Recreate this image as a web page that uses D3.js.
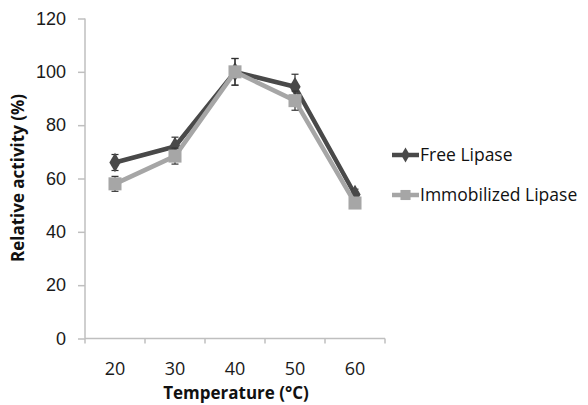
<!doctype html>
<html lang="en">
<head>
<meta charset="UTF-8">
<title>Relative activity vs temperature</title>
<script src="https://cdn.jsdelivr.net/npm/d3@7"></script>
<style>
    body{ margin:0; background:#fff; }
    svg{ display:block; font-family:"Open Sans", sans-serif; }
    .axis path, .axis line{ stroke:#bfbfbf; stroke-width:1.5px; }
    .axis text{ fill:#1a1a1a; font-size:18px; }
    .title{ font-weight:bold; font-size:17px; fill:#111; }
    .legend text{ font-size:17.5px; fill:#111; }
</style>
</head>
<body>
<svg width="588" height="405"></svg>
<script>
// values
const temps = ["20", "30", "40", "50", "60"];
const freeLipase = [66, 72, 100, 94.4, 54];
const freeErr = [3, 3.5, 5, 4.7, 2];
const immobLipase = [58, 68.4, 100, 89.2, 50.8];
const immobErr = [2.8, 3, 5, 3.6, 1.5];
const yTicks = [0, 20, 40, 60, 80, 100, 120];

const series = [
    {name:"Free Lipase", values:freeLipase, err:freeErr, color:"#484848", shape:d3.symbolDiamond, size:110},
    {name:"Immobilized Lipase", values:immobLipase, err:immobErr, color:"#a6a6a6", shape:d3.symbolSquare, size:170}
];

const svg = d3.select("svg");

let x = d3.scaleBand().domain(temps).range([85, 385]);
let y = d3.scaleLinear().domain([0, 120]).range([338.5, 18.5]);

// soft edge like the scanned figure
svg.append("defs").append("filter").attr("id","soft")
    .append("feGaussianBlur").attr("stdDeviation", 0.6);

// y axis
let yAxis = svg.append("g").attr("class","axis")
    .attr("transform","translate(85,0)")
    .call(d3.axisLeft(y).tickValues(yTicks).tickSize(7).tickPadding(12));
yAxis.select(".domain").attr("d","M0,18.5V338.5");

// x axis, ticks on category boundaries
let xAxis = svg.append("g").attr("class","axis")
    .attr("transform","translate(0,338.5)");
xAxis.append("line").attr("x1",85).attr("x2",385);
xAxis.selectAll(".bound").data(d3.range(temps.length + 1)).enter()
    .append("line").attr("class","bound")
    .attr("x1",i=>85 + i * x.step()).attr("x2",i=>85 + i * x.step())
    .attr("y1",0).attr("y2",5);
xAxis.selectAll(".lbl").data(temps).enter().append("text")
    .attr("x",d=>x(d) + x.bandwidth() / 2).attr("y",36)
    .attr("text-anchor","middle").text(d=>d);

// titles
svg.append("text").attr("class","title")
    .attr("x",236).attr("y",399).attr("text-anchor","middle")
    .text("Temperature (°C)");
svg.append("text").attr("class","title")
    .attr("transform","translate(24,178) rotate(-90)").attr("text-anchor","middle")
    .text("Relative activity (%)");

let cx = d=>x(d) + x.bandwidth() / 2;

series.forEach(s=>{
    let g = svg.append("g").attr("filter","url(#soft)");
    let pts = temps.map((t,i)=>({t:t, v:s.values[i], e:s.err[i]}));

    g.append("path").datum(pts)
        .attr("fill","none").attr("stroke",s.color).attr("stroke-width",4.5)
        .attr("stroke-linejoin","round")
        .attr("d",d3.line().x(d=>cx(d.t)).y(d=>y(d.v)));

    // error bars
    let eb = g.selectAll(".eb").data(pts).enter().append("g");
    eb.append("line").attr("x1",d=>cx(d.t)).attr("x2",d=>cx(d.t))
        .attr("y1",d=>y(d.v + d.e)).attr("y2",d=>y(d.v - d.e));
    eb.append("line").attr("x1",d=>cx(d.t) - 3.5).attr("x2",d=>cx(d.t) + 3.5)
        .attr("y1",d=>y(d.v + d.e)).attr("y2",d=>y(d.v + d.e));
    eb.append("line").attr("x1",d=>cx(d.t) - 3.5).attr("x2",d=>cx(d.t) + 3.5)
        .attr("y1",d=>y(d.v - d.e)).attr("y2",d=>y(d.v - d.e));
    eb.selectAll("line").attr("stroke","#333").attr("stroke-width",1.2);

    g.selectAll(".mk").data(pts).enter().append("path")
        .attr("transform",d=>`translate(${cx(d.t)},${y(d.v)})`)
        .attr("d",d3.symbol().type(s.shape).size(s.size))
        .attr("fill",s.color);
});

// legend
let legend = svg.append("g").attr("class","legend");
series.forEach((s,i)=>{
    let ly = 155 + i * 40;
    let g = legend.append("g").attr("filter","url(#soft)");
    g.append("line").attr("x1",392).attr("x2",419).attr("y1",ly).attr("y2",ly)
        .attr("stroke",s.color).attr("stroke-width",4.5);
    g.append("path").attr("transform",`translate(405.5,${ly})`)
        .attr("d",d3.symbol().type(s.shape).size(s.size * 0.6)).attr("fill",s.color);
    legend.append("text").attr("x",420).attr("y",ly).attr("dy","0.35em").text(s.name);
});
</script>
</body>
</html>
